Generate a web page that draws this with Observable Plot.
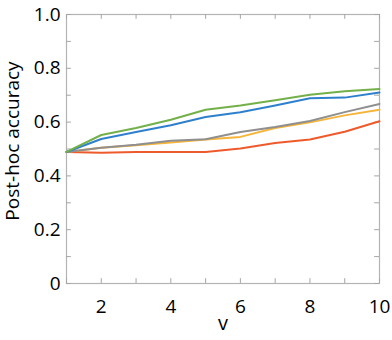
<!DOCTYPE html>
<html>
<head>
<meta charset="utf-8">
<script src="https://cdn.jsdelivr.net/npm/d3@7"></script>
<script src="https://cdn.jsdelivr.net/npm/@observablehq/plot@0.6"></script>
<style>
  html, body { margin: 0; padding: 0; background: #fff; }
  svg { font-family: "Open Sans", sans-serif; }
</style>
</head>
<body>
<div id="chart"></div>
<script>
const vValues = [1, 2, 3, 4, 5, 6, 7, 8, 9, 10];
const greenSeries  = [0.489, 0.552, 0.578, 0.609, 0.646, 0.662, 0.681, 0.702, 0.715, 0.723];
const blueSeries   = [0.489, 0.537, 0.563, 0.588, 0.619, 0.637, 0.662, 0.689, 0.691, 0.710];
const graySeries   = [0.489, 0.505, 0.516, 0.531, 0.536, 0.563, 0.582, 0.604, 0.637, 0.667];
const orangeSeries = [0.489, 0.505, 0.514, 0.524, 0.535, 0.545, 0.578, 0.599, 0.625, 0.646];
const redSeries    = [0.489, 0.486, 0.489, 0.489, 0.489, 0.502, 0.522, 0.535, 0.564, 0.603];
const seriesNames  = ["series1", "series2", "series3", "series4", "series5"];
const seriesColors = ["#ee5a2c", "#f6b53a", "#8f8f8f", "#2f80cc", "#73b04a"];
const xTicks = [1, 2, 3, 4, 5, 6, 7, 8, 9, 10];
const yTicks = [0, 0.1, 0.2, 0.3, 0.4, 0.5, 0.6, 0.7, 0.8, 0.9, 1.0];
const xLabel = "v";
const yLabel = "Post-hoc accuracy";

const allSeries = [redSeries, orangeSeries, graySeries, blueSeries, greenSeries];
const rows = [];
allSeries.forEach((s, i) => s.forEach((y, j) => rows.push({v: vValues[j], y, series: seriesNames[i]})));

const xFmt = d => (d % 2 === 0 ? String(d) : "");
const yFmt = d => {
  const k = Math.round(d * 10);
  if (k % 2 !== 0) return "";
  return k === 0 ? "0" : (k / 10).toFixed(1);
};

const W = 392, H = 340, mL = 66, mR = 13, mT = 14, mB = 57;
const tickStyle = {stroke: "#a6a6a6", strokeWidth: 1, strokeOpacity: 1};
// inner tick length expressed in data units (about 5 px)
const tyLen = 0.018, txLen = 0.14;

const chart = Plot.plot({
  width: W,
  height: H,
  marginLeft: mL,
  marginRight: mR,
  marginTop: mT,
  marginBottom: mB,
  style: {fontSize: "19px", fontFamily: "'Open Sans', sans-serif", color: "#000", background: "#fff"},
  x: {domain: [1, 10]},
  y: {domain: [0, 1]},
  color: {domain: seriesNames, range: seriesColors},
  marks: [
    Plot.frame({stroke: "#b4b4b4", strokeWidth: 1.2}),
    // inner tick marks on all four sides
    Plot.ruleX(xTicks, {x: d => d, y1: 0, y2: tyLen, ...tickStyle}),
    Plot.ruleX(xTicks, {x: d => d, y1: 1, y2: 1 - tyLen, ...tickStyle}),
    Plot.ruleY(yTicks, {y: d => d, x1: 1, x2: 1 + txLen, ...tickStyle}),
    Plot.ruleY(yTicks, {y: d => d, x1: 10, x2: 10 - txLen, ...tickStyle}),
    // tick labels
    Plot.axisX({ticks: xTicks, anchor: "bottom", tickSize: 0, tickPadding: 16, tickFormat: xFmt, label: null, fill: "#000"}),
    Plot.axisY({ticks: yTicks, anchor: "left", tickSize: 0, tickPadding: 6, tickFormat: yFmt, label: null, fill: "#000"}),
    // axis titles
    Plot.text([xLabel], {frameAnchor: "bottom", dy: 46, fontSize: 20, fill: "#000"}),
    Plot.text([yLabel], {frameAnchor: "left", textAnchor: "middle", rotate: -90, dx: -54, dy: -8, fontSize: 19, fill: "#000"}),
    // series
    Plot.line(rows, {x: "v", y: "y", z: "series", stroke: "series", strokeWidth: 2})
  ]
});
document.getElementById("chart").appendChild(chart);
</script>
</body>
</html>
